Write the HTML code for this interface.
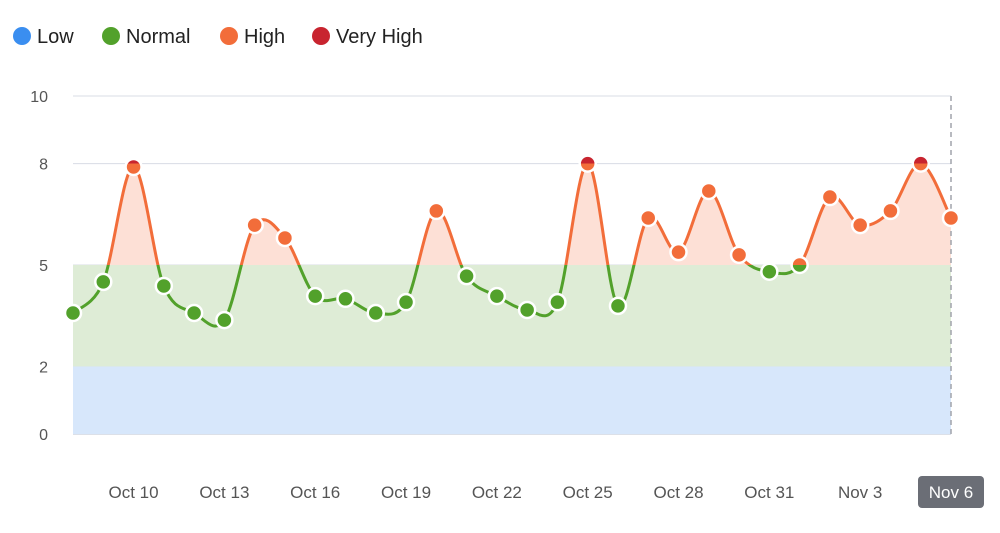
<!DOCTYPE html>
<html><head><meta charset="utf-8"><style>
body{margin:0;background:#fff;font-family:"Liberation Sans",sans-serif}
svg{display:block}
</style></head><body>
<svg id="c" width="1000" height="533">
<defs>
<linearGradient id="lg" gradientUnits="userSpaceOnUse" x1="0" y1="434" x2="0" y2="96">
<stop offset="0" stop-color="#52a12b"/><stop offset="0.5" stop-color="#52a12b"/>
<stop offset="0.5" stop-color="#f26d3a"/><stop offset="0.8" stop-color="#f26d3a"/>
<stop offset="0.8" stop-color="#c8242f"/><stop offset="1" stop-color="#c8242f"/>
</linearGradient>
<clipPath id="above5"><rect x="0" y="0" width="1000" height="265"/></clipPath>
</defs>
<g font-size="20" fill="#222">
<g><circle cx="22" cy="36" r="9" fill="#3a8ef0"/><text x="37" y="43">Low</text></g>
<g><circle cx="111" cy="36" r="9" fill="#52a12b"/><text x="126" y="43">Normal</text></g>
<g><circle cx="229" cy="36" r="9" fill="#f26d3a"/><text x="244" y="43">High</text></g>
<g><circle cx="321" cy="36" r="9" fill="#c8242f"/><text x="336" y="43">Very High</text></g>
</g>
<g id="grid"></g>
<g id="bands"></g>
<g id="series"></g>
<g id="xaxis"></g>
</svg>
<script>
const categories=["Oct 8","Oct 9","Oct 10","Oct 11","Oct 12","Oct 13","Oct 14","Oct 15","Oct 16","Oct 17","Oct 18","Oct 19","Oct 20","Oct 21","Oct 22","Oct 23","Oct 24","Oct 25","Oct 26","Oct 27","Oct 28","Oct 29","Oct 30","Oct 31","Nov 1","Nov 2","Nov 3","Nov 4","Nov 5","Nov 6"];
const values=[3.58,4.5,7.9,4.38,3.58,3.37,6.18,5.8,4.08,4.0,3.58,3.9,6.6,4.67,4.08,3.67,3.9,8.0,3.79,6.39,5.38,7.19,5.3,4.8,5.0,7.01,6.18,6.6,8.0,6.39];
const yTicks=[0,2,5,8,10];
const xTickLabels=["Oct 10","Oct 13","Oct 16","Oct 19","Oct 22","Oct 25","Oct 28","Oct 31","Nov 3","Nov 6"];
const NS="http://www.w3.org/2000/svg";
const X0=73,X1=951,Y0=434,Y1=96;
const x=i=>X0+(X1-X0)*i/(categories.length-1);
const y=v=>Y0-(Y0-Y1)*v/10;
function mk(t,a,p){const e=document.createElementNS(NS,t);for(const k in a)e.setAttribute(k,a[k]);p.appendChild(e);return e;}
const grid=document.getElementById('grid');
yTicks.forEach(t=>{
 const l=mk('line',{x1:X0,x2:X1,y1:y(t),y2:y(t),stroke:t===0?'#b8c2d0':'#d8dce4','stroke-width':1},grid);
 
 
 const tx=mk('text',{x:48,y:y(t)+6,'text-anchor':'end','font-size':16,fill:'#555'},grid);
 tx.textContent=t;
 
 
});
const bands=document.getElementById('bands');
const b1=mk('rect',{x:X0,y:y(2),width:X1-X0,height:y(0)-y(2),fill:'#d7e7fb'},bands);


const b2=mk('rect',{x:X0,y:y(5),width:X1-X0,height:y(2)-y(5),fill:'#deecd6'},bands);


const pts=values.map((v,i)=>[x(i),y(v)]);
let d='M'+pts[0][0]+','+pts[0][1];
for(let i=0;i<pts.length-1;i++){
 const p0=pts[Math.max(0,i-1)],p1=pts[i],p2=pts[i+1],p3=pts[Math.min(pts.length-1,i+2)];
 const c1=[p1[0]+(p2[0]-p0[0])/6,p1[1]+(p2[1]-p0[1])/6],c2=[p2[0]-(p3[0]-p1[0])/6,p2[1]-(p3[1]-p1[1])/6];
 d+=' C'+c1[0]+','+c1[1]+' '+c2[0]+','+c2[1]+' '+p2[0]+','+p2[1];
}
const series=document.getElementById('series');
const area=mk('path',{d:d+' L'+X1+','+y(5)+' L'+X0+','+y(5)+'Z',fill:'#fde0d6','clip-path':'url(#above5)'},series);


const dl=mk('line',{x1:X1,x2:X1,y1:Y1,y2:Y0,stroke:'#a0a4ab','stroke-width':1.5,'stroke-dasharray':'5,4'},series);


const line=mk('path',{d:d,fill:'none',stroke:'url(#lg)','stroke-width':3},series);


pts.forEach((p,i)=>{
 const c=mk('circle',{cx:p[0],cy:p[1],r:8,fill:'url(#lg)',stroke:'#fff','stroke-width':2.5},series);
 
 
});
const xa=document.getElementById('xaxis');
xTickLabels.forEach(lbl=>{
 const i=categories.indexOf(lbl);const cx=x(i);
 if(lbl==="Nov 6"){
  const r=mk('rect',{x:cx-33,y:476,width:66,height:32,rx:4,fill:'#6b6e76'},xa);
  
  
 }
 const t=mk('text',{x:cx,y:498,'text-anchor':'middle','font-size':17,fill:lbl==="Nov 6"?'#fff':'#555'},xa);
 t.textContent=lbl;
 
 
});
</script>
</body></html>
